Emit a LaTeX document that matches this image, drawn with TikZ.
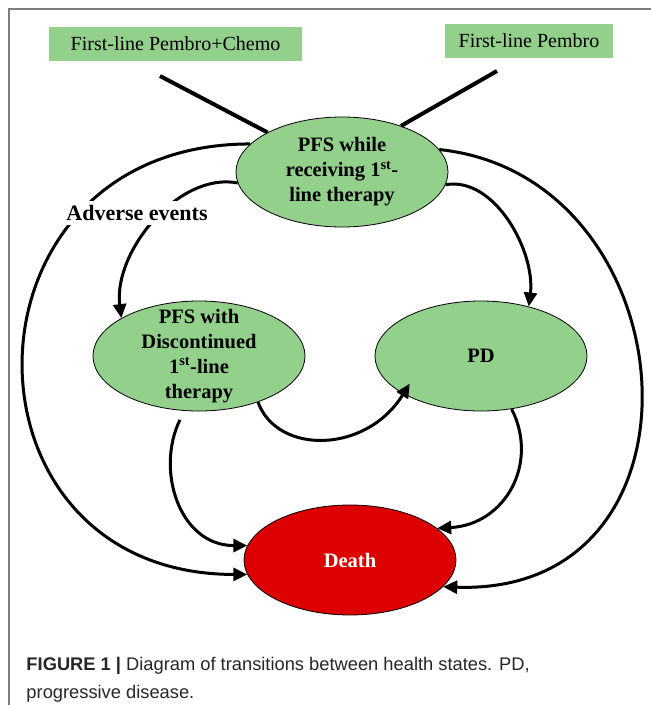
\documentclass[tikz,border=0pt]{standalone}
\usepackage{fontspec}
\setmainfont{Liberation Serif}
\setsansfont{Liberation Sans}
\usetikzlibrary{arrows.meta, shapes.geometric, positioning}
\definecolor{stategreen}{RGB}{146,208,139}
\definecolor{deathred}{RGB}{221,0,0}
\definecolor{framegray}{RGB}{125,125,125}

\begin{document}
\begin{tikzpicture}[x=1pt,y=1pt,->,>={Triangle[length=14pt,width=13pt]},line width=3pt,node distance=282pt,
    health node/.style={ellipse,draw,line width=0.8pt,fill=stategreen,minimum width=212pt,minimum height=110pt,inner sep=0pt},
    death node/.style={health node,fill=deathred},
    state text/.style={align=center,inner sep=0pt,font=\bfseries\fontsize{20.5}{25}\selectfont},
    arm node/.style={rectangle,fill=stategreen,minimum height=34pt,inner sep=0pt,font=\fontsize{20}{24}\selectfont},
    event text/.style={fill=white,inner sep=4pt,font=\bfseries\fontsize{22}{26}\selectfont},
    caption text/.style={anchor=base west,inner sep=0pt,text=black!85,font=\sffamily\fontsize{18.3}{22}\selectfont}]

\useasboundingbox (0,0) rectangle (651,-705);
\draw[-,framegray,line width=1.3pt] (9,-705) -- (9,-9) -- (651,-9);

\node[arm node,minimum width=253pt]   (pembrochemo) at (175.5,-44)  {First-line Pembro+Chemo};
\node[arm node,minimum width=168pt]   (pembro)      at (529,-41)    {First-line Pembro};

\node[health node]    (pfs)     at (342,-172)   {};
\node[health node]    (disc)    at (199,-356)   {};
\node[health node]    (pd)      [right of=disc] {};
\node[death node]     (death)   at (350,-560)   {};

\node[state text]             (pfstext)   at (pfs)   {PFS while\\receiving 1\textsuperscript{st}-\\line therapy};
\node[state text]             (disctext)  at (disc)  {PFS with\\Discontinued\\1\textsuperscript{st}-line\\therapy};
\node[state text]             (pdtext)    at (pd)    {PD};
\node[state text,text=white]  (deathtext) at (death) {Death};

\coordinate (chemoend)  at (160,-76);
\coordinate (pembroend) at (497,-71);
\path[-,line width=4pt]
(chemoend) edge (pfs.152)
(pembroend) edge (pfs.38);

\path[]
(pfs.163) edge[out=180,in=180,distance=300pt] (death.188)
(pfs.13) edge[out=-6,in=-2,out distance=253pt,in distance=279pt] (death.344)
(pfs.186) edge[out=169,in=97,out distance=60pt,in distance=67pt] (disc.154)
(pfs.353) edge[out=10,in=83,out distance=50pt,in distance=55pt] (pd.46)
(disc.255) edge[out=244,in=180,out distance=66pt,in distance=68pt,shorten <=10pt] (death.172)
(disc.322) edge[out=-70,in=238,out distance=56pt,in distance=71pt,shorten >=-12pt] (pd.206)
(pd.300) edge[out=-63,in=3,out distance=61pt,in distance=68pt] (death.20);

\node[event text] (adverse) at (137,-213) {Adverse events};

\node[caption text] (caption1) at (25,-670) {\textbf{FIGURE 1 |} Diagram of transitions between health states. PD,};
\node[caption text] (caption2) at (25,-698) {progressive disease.};
\end{tikzpicture}
\end{document}
